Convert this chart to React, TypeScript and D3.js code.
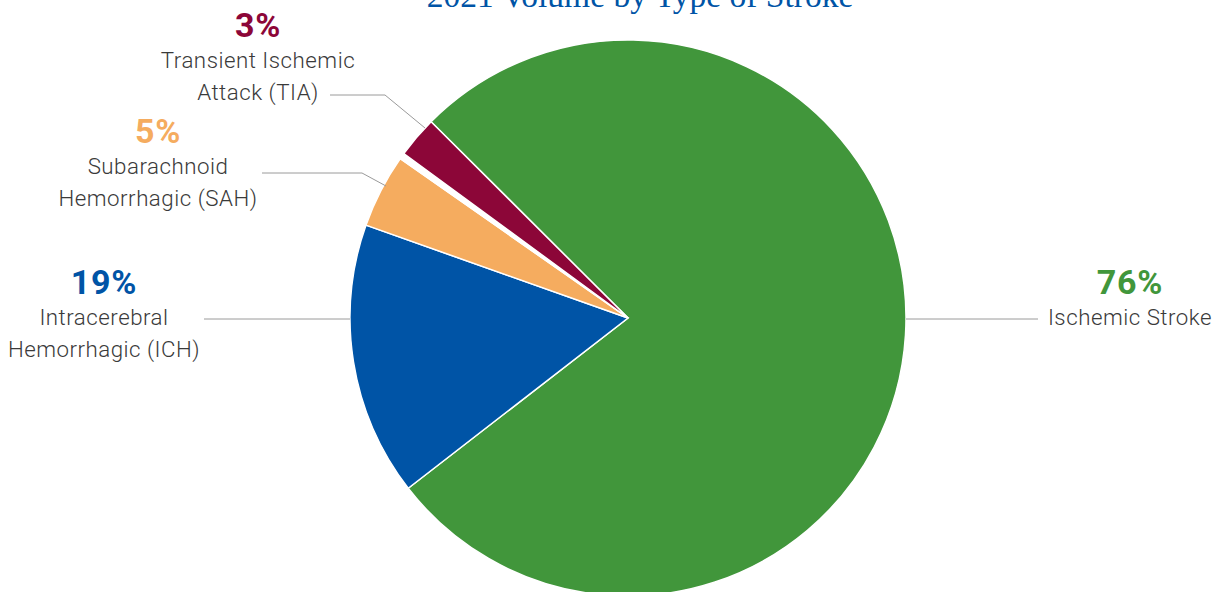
import React from "react";
import * as d3 from "d3";

const categories = ["Ischemic Stroke", "Intracerebral Hemorrhagic (ICH)", "Subarachnoid Hemorrhagic (SAH)", "Gap", "Transient Ischemic Attack (TIA)"];
const values = [77.0, 15.9, 4.3, 0.35, 2.4];
const colors = ["#41963B", "#0054A6", "#F5AC5F", "#FFFFFF", "#8C0638"];
const pctLabels = ["76%", "19%", "5%", "", "3%"];

const W = 1220, H = 592;
const cx = 628, cy = 318, R = 278;

type Lbl = { idx: number; x: number; y: number; lines: string[]; pts: [number, number][] };
const labels: Lbl[] = [
  { idx: 0, x: 1130, y: 294, lines: ["Ischemic Stroke"], pts: [[1038, 319], [906, 319]] },
  { idx: 1, x: 104, y: 294, lines: ["Intracerebral", "Hemorrhagic (ICH)"], pts: [[204, 319], [350, 319]] },
  { idx: 2, x: 158, y: 143, lines: ["Subarachnoid", "Hemorrhagic (SAH)"], pts: [[262, 173], [362, 173], [386, 186]] },
  { idx: 4, x: 258, y: 37, lines: ["Transient Ischemic", "Attack (TIA)"], pts: [[330, 95], [385, 95], [425, 128]] },
];

export default function App() {
  const start = (-45.1 * Math.PI) / 180;
  const pie = d3.pie<number>().sort(null).value((d) => d).startAngle(start).endAngle(start + 2 * Math.PI);
  const arcs = pie(values);
  const arc = d3.arc<d3.PieArcDatum<number>>().innerRadius(0).outerRadius(R);
  const line = d3.line();
  return (
    <svg width={W} height={H} style={{ position: "absolute", left: 0, top: 0 }}>
      <text x={640} y={7} textAnchor="middle" fontFamily="'Liberation Serif', 'Times New Roman', serif" fontSize={33.5} fill="#0054A6">
        2021 Volume by Type of Stroke
      </text>
      <g transform={`translate(${cx},${cy})`}>
        {arcs.map((a, i) => (
          <path key={i} d={arc(a) || ""} fill={colors[i]} stroke="#fff" strokeWidth={1.5} />
        ))}
      </g>
      {labels.map((l) => (
        <g key={l.idx}>
          <path d={line(l.pts) || ""} fill="none" stroke="#9a9a9a" strokeWidth={1} />
          <text x={l.x} y={l.y} textAnchor="middle" fontFamily="Roboto, sans-serif" fontWeight={700} fontSize={34} letterSpacing={0.8} fill={colors[l.idx]}>
            {pctLabels[l.idx]}
          </text>
          {l.lines.map((t, j) => (
            <text key={j} x={l.x} y={l.y - 1 + 32 * (j + 1)} textAnchor="middle" fontFamily="Roboto, sans-serif" fontWeight={300} fontSize={22.3} fill="#3a3a3a" letterSpacing={0.5}>
              {t}
            </text>
          ))}
        </g>
      ))}
    </svg>
  );
}
